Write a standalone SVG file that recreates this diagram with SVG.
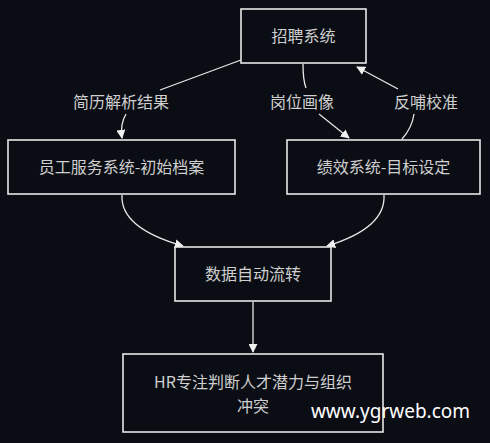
<svg xmlns="http://www.w3.org/2000/svg" width="490" height="443" viewBox="0 0 490 443">
<defs>
<style>
.node rect{fill:#0b0d14;stroke:#e8e8e8;stroke-width:1.6}
.t{font-family:"Noto Sans CJK SC","Noto Sans",sans-serif;font-size:16px;fill:#cfcfcf;text-anchor:middle}
.edge{fill:none;stroke:#e8e8e8;stroke-width:1.3}
.lbl{font-family:"Noto Sans CJK SC","Noto Sans",sans-serif;font-size:16px;fill:#cfcfcf;text-anchor:middle}
</style>
<marker id="arr" viewBox="0 0 10 10" refX="9" refY="5" markerWidth="9" markerHeight="9" orient="auto" markerUnits="userSpaceOnUse">
<path d="M0,0 L10,5 L0,10 z" fill="#f0f0f0"/>
</marker>
</defs>
<rect width="490" height="443" fill="#0b0d14"/>
<g id="connectors">
<path class="edge" d="M241,60 L160,90"/>
<path class="edge" d="M126,114 Q120,124 122,138" marker-end="url(#arr)"/>
<path class="edge" d="M303,64 Q303,80 306,88"/>
<path class="edge" d="M319,114 L349,138" marker-end="url(#arr)"/>
<path class="edge" d="M402,139 Q412,128 414,114"/>
<path class="edge" d="M398,89 L357,67" marker-end="url(#arr)"/>
<path class="edge" d="M122,195 Q120,228 183,246" marker-end="url(#arr)"/>
<path class="edge" d="M384,195 Q386,228 327,246" marker-end="url(#arr)"/>
<path class="edge" d="M253,302 L253,352" marker-end="url(#arr)"/>
<text class="lbl" x="121" y="108">简历解析结果</text>
<text class="lbl" x="302" y="108">岗位画像</text>
<text class="lbl" x="426" y="108">反哺校准</text>
</g>
<g id="n1" class="node"><rect x="241" y="9" width="125" height="54"/><text class="t" x="303.5" y="42">招聘系统</text></g>
<g id="n2" class="node"><rect x="8" y="140" width="227" height="54"/><text class="t" x="121.5" y="173">员工服务系统-初始档案</text></g>
<g id="n3" class="node"><rect x="287" y="140" width="193" height="54"/><text class="t" x="383.5" y="173">绩效系统-目标设定</text></g>
<g id="n4" class="node"><rect x="175" y="247" width="156" height="54"/><text class="t" x="253" y="280">数据自动流转</text></g>
<g id="n5" class="node"><rect x="123" y="354" width="260" height="78"/><text class="t" x="253" y="388">HR专注判断人才潜力与组织</text><text class="t" x="253" y="412">冲突</text></g>
<text x="390.5" y="418" font-family="Noto Sans, sans-serif" font-size="19" fill="#ffffff" text-anchor="middle">www.ygrweb.com</text>
</svg>
